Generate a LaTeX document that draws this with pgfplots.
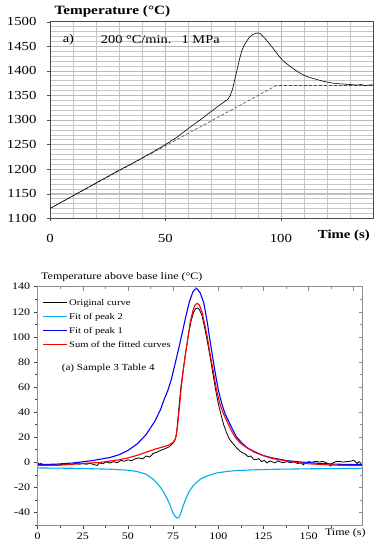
\documentclass[border=0pt]{standalone}
\usepackage{fontspec}
\setmainfont{Liberation Serif}[FakeStretch=1.2]
\usepackage{pgfplots}
\pgfplotsset{compat=1.18}
\begin{document}
\begin{tikzpicture}
\useasboundingbox (0,0) rectangle (380pt,550pt);
% ---------------- top chart ----------------
\begin{axis}[
 at={(50pt,331.7pt)}, anchor=south west, scale only axis,
 width=323.3pt, height=196.7pt,
 xmin=0, xmax=140, ymin=1100, ymax=1500,
 xtick={0,50,100}, ytick={1100,1150,...,1500},
 minor xtick={10,20,...,130}, minor ytick={1110,1120,...,1490},
 grid=both,
 major grid style={gray!55, line width=0.5pt},
 minor grid style={gray!45, line width=0.4pt},
 axis line style={gray!60!black, line width=0.6pt},
 tick align=outside, major tick length=3pt, minor tick length=0pt,
 xtick pos=bottom, ytick pos=left,
 tick style={gray!60!black},
 /pgf/number format/assume math mode=true,
 /pgf/number format/1000 sep={},
 ticklabel style={font=\fontsize{12.3}{14}\selectfont},
 xticklabel style={yshift=-9pt},
 yticklabel style={xshift=-7pt},
 clip=false,
]
\addplot[gray!60!black, line width=0.6pt, dash pattern=on 3pt off 2pt] coordinates {(0,1120)(98,1370)(140,1370)};
\addplot[black, line width=0.6pt] coordinates {
(0,1120)(5,1133)(10,1146)(15,1159)(20,1172)(25,1185)(30,1198)(35,1210)(40,1223)(45,1236)
(50,1250)(55,1265)(60,1283)(65,1300)(70,1318)(74,1332)(77,1342)(78,1349)(79,1362)(80,1382)
(81,1402)(82,1422)(83,1440)(84,1451)(85,1459)(86,1466)(87,1471)(88,1474)(89,1476)(90,1477)
(91,1476)(92,1471)(93,1466)(94,1461)(95,1455)(96,1449)(97,1443)(98,1437)(100,1425)(102,1416)
(104,1409)(106,1402)(108,1396)(110,1391)(112,1387)(115,1383)(118,1379)(121,1376)(124,1374)
(127,1373)(130,1372)(133,1371)(135,1372)(136,1370)(138,1371)(140,1371)};
\node[anchor=base west, font=\bfseries\fontsize{12.7}{14}\selectfont] at (rel axis cs:0,1) [xshift=1pt, yshift=6.7pt] {Temperature (°C)};
\node[anchor=west, font=\fontsize{12}{14}\selectfont] at (axis cs:4,1463) {a)};
\node[anchor=west, font=\fontsize{12}{14}\selectfont] at (axis cs:20.5,1463) {200 °C/min.};
\node[anchor=west, font=\fontsize{12}{14}\selectfont] at (axis cs:55.5,1463) {1 MPa};
\node[anchor=east, font=\bfseries\fontsize{12.3}{14}\selectfont] at (rel axis cs:1,0) [yshift=-17.5pt] {Time (s)};
\end{axis}
% ---------------- bottom chart ----------------
\begin{axis}[
 at={(37.7pt,25pt)}, anchor=south west, scale only axis,
 width=325pt, height=238.3pt,
 xmin=0, xmax=180, ymin=-50, ymax=140,
 xtick={0,25,...,150},
 extra x ticks={170.4}, extra x tick labels={Time (s)},
 extra x tick style={major tick length=0pt},
 minor xtick={12.5,37.5,...,175},
 ytick={-40,-20,...,140}, minor ytick={-50,-30,...,130},
 tick align=outside, xtick pos=bottom, ytick pos=left,
 major tick length=4pt, minor tick length=2.5pt,
 axis line style={black!75, line width=0.6pt},
 tick style={black!75, line width=0.5pt},
 /pgf/number format/assume math mode=true,
 ticklabel style={font=\fontsize{10}{12}\selectfont},
 xticklabel style={text height=7pt, text depth=1pt},
 clip=false,
 legend cell align=left,
 legend style={draw=none, fill=none, at={(axis description cs:0,1)}, anchor=north west,
   xshift=2pt, yshift=-8pt, font=\fontsize{8.8}{10}\selectfont, row sep=2.6pt,
   nodes={inner sep=1.2pt, text height=7pt, text depth=2pt}},
 legend image code/.code={\draw[#1] (0pt,0pt) -- (24pt,0pt);},
]
\addplot[black, line width=0.8pt] coordinates {
(0,-0.5)(1,-1.5)(2,-1)(3,-2)(5,-1.8)(7,-2.2)(9,-1.6)(11,-2.3)(13,-1.8)(15,-2)(17,-1.2)(19,-1.8)
(21,-0.8)(23,-1.5)(25,-1)(27,-1.6)(29,-0.7)(31,-1.8)(33,-2.5)(34,-0.5)(36,-1.2)(38,0.3)(40,-0.6)
(42,0.5)(44,-0.3)(46,1.5)(48,0.8)(50,2)(52,1.2)(54,2.8)(56,3.5)(58,2.6)(60,5)(62,4.2)(64,7)
(66,8)(68,9.5)(70,10.5)(72,11.8)(73,12.5)(74,14)(75,15.5)(76,17.5)(76.8,22)(77.5,32)(78.3,45)
(79.3,60)(80.5,73)(82,88)(83.5,102)(85,113)(86.5,120)(87.5,122.5)(88.5,123)(89.5,122)(91,117)
(92.5,107)(94,96)(95.5,84)(97,71)(98.5,58)(100,47)(101.5,38)(103,30)(104.5,24)(106,19)(107.5,16)
(109,13.5)(110.5,11)(112,9)(113.5,7.5)(115,6.5)(116.5,4.5)(118,5)(119.5,2.5)(121,2)(122.5,3)
(124,0.5)(125.5,1.5)(127,-0.5)(128.5,1)(130,0.3)(131.5,-0.5)(133,1.2)(134.5,0.2)(136,-0.3)
(138,0.5)(140,-0.2)(142,0.4)(144,-1)(146,-0.3)(147,-2)(148,-1)(150,0.5)(152,0)(154,0.8)(156,0.2)
(158,0.7)(160,-0.5)(161.5,-1.5)(162,-3)(163,-1)(165,0.5)(167,0.8)(169,0.2)(171,0.5)(173,0.8)
(175,1.5)(176,0.5)(177,-1)(178,0.5)(179,-1.8)(180,-1.5)};
\addlegendentry{Original curve}
\addplot[cyan, line width=1.1pt] coordinates {
(0,-4.5)(20,-4.8)(40,-5.5)(50,-6.3)(55,-7.3)(60,-9.5)(62,-11.5)(64,-13.5)(66,-16.5)(68,-20)
(70,-24.5)(71.5,-28.5)(73,-33)(74,-37)(75,-40.5)(76,-43)(77.2,-44.5)(78.5,-43.5)(79.6,-39)
(81,-33)(82.4,-28)(84,-23)(86.1,-18.7)(88,-16)(90,-13.5)(92,-12)(95,-10.3)(99,-8.5)(105,-7.3)
(110,-6.6)(120,-6)(130,-5.6)(150,-5.2)(180,-4.8)};
\addlegendentry{Fit of peak 2}
\addplot[blue, line width=1.1pt] coordinates {
(0,-1.9)(10,-1.5)(20,-0.5)(30,1.3)(40,3.8)(45,6)(50,9.5)(55,14.5)(60,22)(65,33)(68,42)(70,50)
(72,57)(74,66)(76,78)(78,90)(80,103)(82,116)(84,128)(86,136)(87.6,138.7)(88.5,138)(90,135)
(92,127)(94,111)(95,101)(96,92)(97,83)(98,74)(99,66)(100,58)(101,52)(102,46.5)(103,42)(104,38)
(105,35)(106,32)(108,26)(110,20.5)(113,15.5)(116,11.6)(120,8.5)(125,5.3)(130,3.5)(138,1.3)
(145,0.3)(155,-0.8)(165,-1.5)(180,-2)};
\addlegendentry{Fit of peak 1}
\addplot[red, line width=1.1pt] coordinates {
(0,-2.5)(10,-2.5)(20,-1.5)(30,-0.5)(35,0)(40,1)(45,2)(50,3.5)(55,5.5)(60,8)(65,10.5)(70,12.5)
(73,14)(75,16)(76,18)(76.5,20)(77,24)(77.4,28)(78,37)(78.7,47)(79.5,60)(80.6,73)(82,88)
(83.3,100)(84.5,112)(86,121)(87,125)(88.3,126.7)(89.5,125.5)(91,120)(92.5,110)(93.9,100)
(95.5,86)(97.2,73)(99,58)(100.9,46.7)(102.5,40)(104.6,33.3)(107,26)(109.3,20)(112,15.5)
(115.4,12)(120,8)(125,5.3)(130,3)(138,1)(145,-0.5)(150,-1.2)(160,-2)(170,-2.5)(180,-2.7)};
\addlegendentry{Sum of the fitted curves}
\node[anchor=west, font=\fontsize{9.3}{11}\selectfont] at (axis cs:11.4,75) {(a) Sample 3 Table 4};
\node[anchor=base west, font=\fontsize{10}{12}\selectfont] at (rel axis cs:0,1) [yshift=7pt] {Temperature above base line (°C)};
\end{axis}
\begin{axis}[
 at={(37.7pt,25pt)}, anchor=south west, scale only axis,
 width=325pt, height=238.3pt,
 xmin=0, xmax=180, ymin=-50, ymax=140,
 xtick={0,25,...,175}, minor xtick={12.5,37.5,...,175},
 ytick={-40,-20,...,140}, minor ytick={-50,-30,...,130},
 xticklabels={}, yticklabels={},
 tick align=inside, xtick pos=top, ytick pos=right,
 major tick length=4pt, minor tick length=2.5pt,
 axis line style={black!45, line width=0.6pt},
 tick style={black!45, line width=0.5pt},
]
\end{axis}
\end{tikzpicture}
\end{document}
